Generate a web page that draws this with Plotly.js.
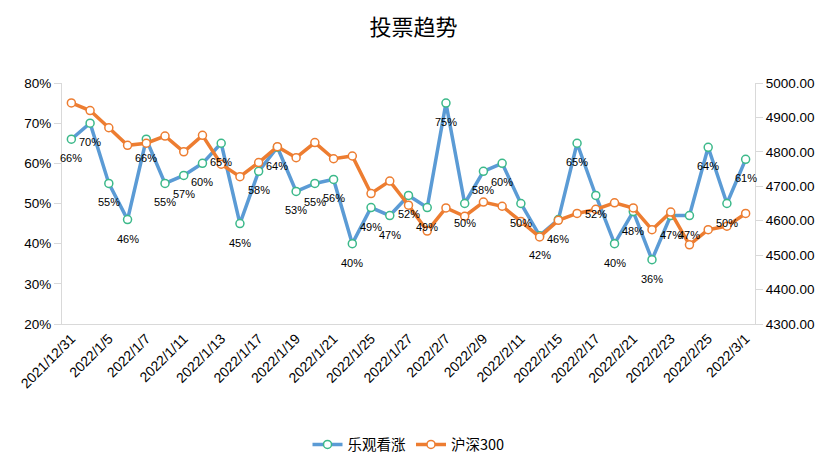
<!DOCTYPE html>
<html>
<head>
<meta charset="utf-8">
<script src="https://cdn.plot.ly/plotly-3.0.1.min.js"></script>
<style>html,body{margin:0;padding:0;background:#fff;}#chart{width:827px;height:473px;}</style>
</head>
<body>
<div id="chart"></div>
<script>
const dates = ["2021/12/31","2022/1/4","2022/1/5","2022/1/6","2022/1/7","2022/1/10","2022/1/11","2022/1/12","2022/1/13","2022/1/14","2022/1/17","2022/1/18","2022/1/19","2022/1/20","2022/1/21","2022/1/24","2022/1/25","2022/1/26","2022/1/27","2022/1/28","2022/2/7","2022/2/8","2022/2/9","2022/2/10","2022/2/11","2022/2/14","2022/2/15","2022/2/16","2022/2/17","2022/2/18","2022/2/21","2022/2/22","2022/2/23","2022/2/24","2022/2/25","2022/2/28","2022/3/1"];
const bullishPct = [66,70,55,46,66,55,57,60,65,45,58,64,53,55,56,40,49,47,52,49,75,50,58,60,50,42,46,65,52,40,48,36,47,47,64,50,61];
const hs300 = [4942,4920,4870,4819,4825,4846,4800,4848,4764,4728,4769,4815,4783,4827,4780,4788,4679,4715,4645,4570,4637,4613,4654,4642,4598,4553,4601,4621,4633,4652,4637,4574,4625,4530,4574,4584,4621];
const tickDates = dates.filter((d, i) => i % 2 === 0);
const seriesNames = ["乐观看涨", "沪深300"];

const font = "Liberation Sans, Arial, Noto Sans CJK SC, sans-serif";
const cjk = "Noto Sans CJK SC, sans-serif";

const traces = [
  {
    x: dates, y: bullishPct.map(v => v / 100), name: seriesNames[0],
    type: "scatter", mode: "lines+markers", yaxis: "y",
    line: {color: "#5B9BD5", width: 3.5},
    marker: {size: 8, color: "#ffffff", line: {color: "#3CB98A", width: 1.5}}
  },
  {
    x: dates, y: hs300, name: seriesNames[1],
    type: "scatter", mode: "lines+markers", yaxis: "y2",
    line: {color: "#ED7D31", width: 3.5},
    marker: {size: 8, color: "#ffffff", line: {color: "#ED7D31", width: 1.5}}
  }
];

const annotations = dates.map((d, i) => ({
  x: d, y: bullishPct[i] / 100, xref: "x", yref: "y",
  text: bullishPct[i] + "%", showarrow: false, yshift: -19,
  font: {family: font, size: 11, color: "#000"}
}));

const layout = {
  width: 827, height: 473,
  margin: {l: 62, r: 72, t: 83, b: 149},
  paper_bgcolor: "#fff", plot_bgcolor: "#fff",
  title: {text: "投票趋势", x: 0.5, xanchor: "center", y: 0.943, yanchor: "middle",
          font: {family: cjk, size: 22, color: "#000"}},
  showlegend: true,
  legend: {orientation: "h", x: 0.5, xanchor: "center", y: -0.5, yanchor: "middle",
           font: {family: cjk, size: 14.5, color: "#000"}},
  xaxis: {
    type: "category", range: [-0.5, 36.5],
    tickvals: tickDates, ticktext: tickDates, tickangle: -45,
    tickfont: {family: font, size: 14, color: "#000"},
    showgrid: false, showline: true, linecolor: "#D9D9D9", linewidth: 1, ticks: "",
    zeroline: false
  },
  yaxis: {
    range: [0.2, 0.8], dtick: 0.1, tickformat: ".0%",
    tickfont: {family: font, size: 13.5, color: "#000"},
    showgrid: false, showline: true, linecolor: "#D9D9D9", ticks: "outside",
    ticklen: 7, tickcolor: "#D9D9D9", zeroline: false
  },
  yaxis2: {
    overlaying: "y", side: "right",
    range: [4300, 5000], dtick: 100, tickformat: ".2f",
    tickfont: {family: font, size: 13.5, color: "#000"},
    showgrid: false, showline: true, linecolor: "#D9D9D9", ticks: "outside",
    ticklen: 7, tickcolor: "#D9D9D9", zeroline: false
  },
  annotations: annotations
};

Plotly.newPlot("chart", traces, layout, {displayModeBar: false, staticPlot: true});
</script>
</body>
</html>
